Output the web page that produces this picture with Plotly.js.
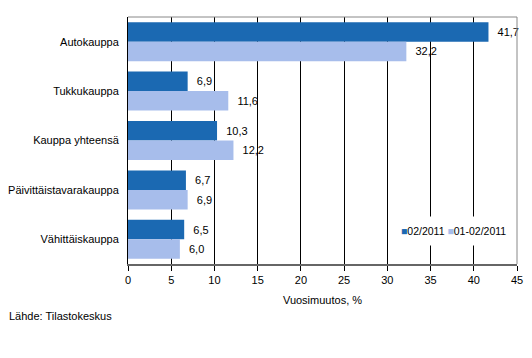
<!DOCTYPE html>
<html>
<head>
<meta charset="utf-8">
<script src="https://cdn.plot.ly/plotly-3.0.1.min.js"></script>
<style>html,body{margin:0;padding:0;background:#fff;}#chart{width:532px;height:358px;}</style>
</head>
<body>
<div id="chart"></div>
<script>
const categories = ["Autokauppa", "Tukkukauppa", "Kauppa yhteensä", "Päivittäistavarakauppa", "Vähittäiskauppa"];
const seriesNames = ["02/2011", "01-02/2011"];
const feb2011 = [41.7, 6.9, 10.3, 6.7, 6.5];
const janFeb2011 = [32.2, 11.6, 12.2, 6.9, 6.0];
const xTicks = [0, 5, 10, 15, 20, 25, 30, 35, 40, 45];
const xTitle = "Vuosimuutos, %";
const sourceText = "Lähde: Tilastokeskus";

const darkColor = "#1b69b2";
const lightColor = "#a7bdeb";
const fontFam = "Liberation Sans, Arial, sans-serif";

function barTrace(name, values, color) {
  return {
    type: "bar", orientation: "h", name: name,
    x: values, y: categories,
    marker: {color: color, line: {width: 0}},
    texttemplate: "\u00a0\u00a0%{x:.1f}",
    textposition: "outside",
    textfont: {family: fontFam, size: 11, color: "#000"},
    cliponaxis: false, constraintext: "none",
    showlegend: false, hoverinfo: "skip"
  };
}

const data = [barTrace(seriesNames[0], feb2011, darkColor), barTrace(seriesNames[1], janFeb2011, lightColor)];

const legendText = '<span style="color:' + darkColor + '">■</span>' + seriesNames[0] +
  ' <span style="color:' + lightColor + '">■</span>' + seriesNames[1];

const layout = {
  width: 532, height: 358,
  margin: {l: 128, r: 15, t: 17, b: 94},
  paper_bgcolor: "#fff", plot_bgcolor: "#fff",
  font: {family: fontFam, size: 11, color: "#000"},
  separators: ", ",
  barmode: "group", bargap: 0.21, bargroupgap: 0,
  xaxis: {
    range: [0, 45], tickvals: xTicks, ticktext: xTicks.map(String),
    showgrid: true, gridcolor: "#000", gridwidth: 1, zeroline: false,
    showline: true, linecolor: "#666", linewidth: 1.5, mirror: false,
    ticks: "outside", ticklen: 5, tickcolor: "#000",
    tickfont: {size: 11},
    title: {text: xTitle, font: {size: 11}, standoff: 11},
    fixedrange: true
  },
  yaxis: {
    type: "category", categoryorder: "array", categoryarray: categories,
    autorange: "reversed",
    showgrid: false, zeroline: false,
    showline: true, linecolor: "#000", linewidth: 1,
    ticks: "", ticklabelstandoff: 6,
    tickfont: {size: 11},
    fixedrange: true
  },
  shapes: [
    {type: "line", xref: "paper", yref: "paper", x0: 0, x1: 1, y0: 1, y1: 1, line: {color: "#888", width: 1}},
    {type: "line", xref: "paper", yref: "paper", x0: 1, x1: 1, y0: 0, y1: 1, line: {color: "#888", width: 1}}
  ],
  annotations: [
    {text: legendText, xref: "paper", yref: "paper", x: 0.836, y: 0.134, xanchor: "center", yanchor: "middle",
     showarrow: false, bgcolor: "#fff", borderpad: 8, font: {size: 10.5}},
    {text: sourceText, xref: "paper", yref: "paper", x: -0.311, y: -0.21, xanchor: "left", yanchor: "middle",
     showarrow: false, font: {size: 11}}
  ]
};

Plotly.newPlot("chart", data, layout, {staticPlot: true, displayModeBar: false});
</script>
</body>
</html>
